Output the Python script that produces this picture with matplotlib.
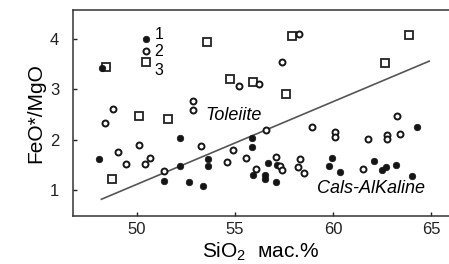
import numpy as np
import matplotlib
matplotlib.use("Agg")
import matplotlib.pyplot as plt

plt.rcParams['font.family'] = ['Liberation Sans', 'DejaVu Sans']
plt.rcParams['mathtext.fontset'] = 'custom'
plt.rcParams['mathtext.rm'] = 'Liberation Sans'
plt.rcParams['mathtext.default'] = 'regular'

# group 1: filled dots
x1 = [48.23, 48.05, 52.17, 52.18, 51.36, 52.65, 53.35, 53.60, 53.60, 55.87, 55.87, 56.67, 55.93,
      56.53, 56.53, 57.16, 57.09, 59.93, 59.81, 60.38, 62.09, 62.50, 62.70, 63.21, 64.02, 64.27]
y1 = [3.42, 1.62, 2.04, 1.48, 1.18, 1.15, 1.07, 1.62, 1.48, 2.04, 1.86, 1.53, 1.30,
      1.30, 1.22, 1.50, 1.16, 1.64, 1.48, 1.36, 1.57, 1.39, 1.45, 1.49, 1.27, 2.25]

# group 2: open circles
x2 = [48.34, 48.78, 49.03, 49.45, 50.09, 50.42, 50.68, 51.38, 52.83, 52.83, 53.24, 54.58, 54.88,
      55.20, 55.55, 56.22, 56.58, 56.07, 57.09, 57.32, 57.41, 57.40, 58.28, 58.32, 58.19, 58.51,
      58.91, 60.08, 60.08, 61.52, 61.80, 62.76, 62.76, 63.28, 63.42]
y2 = [2.34, 2.61, 1.75, 1.51, 1.89, 1.51, 1.63, 1.37, 2.77, 2.58, 1.88, 1.56, 1.79,
      3.06, 1.63, 3.11, 2.20, 1.41, 1.65, 1.48, 1.40, 3.54, 4.09, 1.62, 1.45, 1.33,
      2.25, 2.15, 2.06, 1.41, 2.01, 2.10, 2.02, 2.46, 2.11]

# group 3: open squares
x3 = [48.43, 48.74, 50.09, 51.58, 53.56, 54.74, 55.93, 57.92, 57.62, 62.65, 63.89]
y3 = [3.45, 1.21, 2.47, 2.42, 3.95, 3.20, 3.15, 4.06, 2.91, 3.53, 4.08]

# dividing line
line_x = [48.18, 64.91]
line_y = [0.815, 3.56]

legend_labels = ['1', '2', '3']

fig = plt.figure(figsize=(4.49, 2.64), dpi=100)
ax = fig.add_axes([0.1626, 0.182, 0.8374, 0.780])

ink = '#151515'
ax.plot(line_x, line_y, color='#555555', lw=1.2, zorder=1)
ax.plot(x1, y1, 'o', ms=4.7, mfc=ink, mec=ink, mew=0.5, ls='none', zorder=3)
ax.plot(x2, y2, 'o', ms=4.3, mfc='white', mec=ink, mew=1.4, ls='none', zorder=3)
ax.plot(x3, y3, 's', ms=5.4, mfc='white', mec='#222222', mew=1.3, ls='none', zorder=2)

# hand-made legend
styles = [dict(marker='o', ms=4.7, mfc=ink, mec=ink, mew=0.5),
          dict(marker='o', ms=4.3, mfc='white', mec=ink, mew=1.4),
          dict(marker='s', ms=5.4, mfc='white', mec='#222222', mew=1.3)]
mark_y = [0.859, 0.7995, 0.746]
text_y = [0.883, 0.801, 0.704]
for lab, st, my, ty in zip(legend_labels, styles, mark_y, text_y):
    ax.plot([0.1934], [my], ls='none', transform=ax.transAxes, clip_on=False, **st)
    ax.text(0.217, ty, lab, transform=ax.transAxes, fontsize=11.5, va='center', ha='left')

ax.text(54.92, 2.48, 'Toleiite', fontsize=13, style='italic', ha='center', va='center')
ax.text(61.95, 1.03, 'Cals-AlKaline', fontsize=13, style='italic', ha='center', va='center')

ax.set_xlim(46.73, 65.92)
ax.set_ylim(0.483, 4.576)
ax.set_xticks([50, 55, 60, 65])
ax.set_yticks([1, 2, 3, 4])
ax.tick_params(direction='in', length=3, width=1, labelsize=12, colors='#222222')
ax.tick_params(axis='x', pad=4)
ax.tick_params(axis='y', pad=10)
for s in ['left', 'top', 'bottom']:
    ax.spines[s].set_linewidth(1.1)
    ax.spines[s].set_color('#333333')
ax.spines['right'].set_visible(False)

ax.set_xlabel('SiO$_2$  мас.%', fontsize=15, labelpad=3)
ax.set_ylabel('FeO*/MgO', fontsize=15, labelpad=3)

fig.savefig('out.png', dpi=100)
